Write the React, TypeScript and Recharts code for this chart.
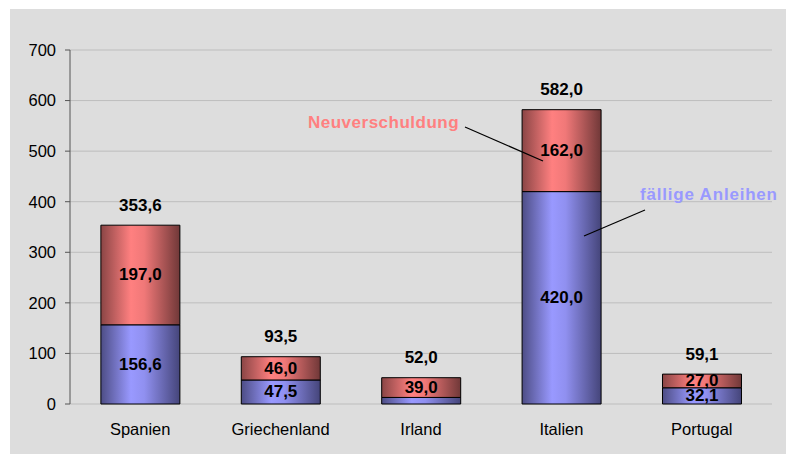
import { Bar, BarChart, CartesianGrid, LabelList, XAxis, YAxis } from 'recharts';

// Fälligkeiten und Neuverschuldung (Mrd. Euro)
const categories = ['Spanien', 'Griechenland', 'Irland', 'Italien', 'Portugal'];
const faelligeAnleihen = [156.6, 47.5, 13.0, 420.0, 32.1];
const neuverschuldung = [197.0, 46.0, 39.0, 162.0, 27.0];
const yTicks = [0, 100, 200, 300, 400, 500, 600, 700];
const boundaryTicks = [0, 1, 2, 3, 4, 5];

const FONT = '"Liberation Sans", Arial, sans-serif';
const BLUE = '#9999ff';
const RED = '#ff8080';

const fmt = (v: number) => v.toFixed(1).replace('.', ',');

const chartData = categories.map((name, i) => ({
  name,
  faellig: faelligeAnleihen[i],
  neu: neuverschuldung[i],
  total: faelligeAnleihen[i] + neuverschuldung[i],
}));

// value printed in the middle of a segment, skipped if the segment is too thin
const InnerLabel = (props: any) => {
  const { x, y, width, height, value } = props;
  if (Math.abs(height) < 10) return null;
  return (
    <text
      x={x + width / 2}
      y={y + height / 2}
      textAnchor="middle"
      dominantBaseline="central"
      fontFamily={FONT}
      fontSize={17}
      fontWeight="bold"
      fill="#000"
    >
      {fmt(Number(value))}
    </text>
  );
};

// total above the stack
const TotalLabel = (props: any) => {
  const { x, y, width, value } = props;
  return (
    <text
      x={x + width / 2}
      y={y - 20}
      textAnchor="middle"
      dominantBaseline="central"
      fontFamily={FONT}
      fontSize={17}
      fontWeight="bold"
      fill="#000"
    >
      {fmt(Number(value))}
    </text>
  );
};

export default function App() {
  return (
    <div style={{ position: 'absolute', left: 0, top: 0, width: 786, height: 454 }}>
      <div style={{ position: 'absolute', left: 10, top: 9, width: 776, height: 445, background: '#dddddd' }}>
        <BarChart
          width={776}
          height={445}
          data={chartData}
          margin={{ top: 41, right: 14, bottom: 20, left: 0 }}
          barCategoryGap="22%"
        >
          <defs>
            <linearGradient id="gradBlue" x1="0" y1="0" x2="1" y2="0">
              <stop offset="0%" stopColor="#4d4d85" />
              <stop offset="38%" stopColor={BLUE} />
              <stop offset="55%" stopColor="#9090f0" />
              <stop offset="100%" stopColor="#45457a" />
            </linearGradient>
            <linearGradient id="gradRed" x1="0" y1="0" x2="1" y2="0">
              <stop offset="0%" stopColor="#8a4545" />
              <stop offset="38%" stopColor={RED} />
              <stop offset="55%" stopColor="#f07878" />
              <stop offset="100%" stopColor="#703838" />
            </linearGradient>
          </defs>
          <CartesianGrid vertical={false} stroke="#bdbdbd" />
          <XAxis
            xAxisId="ticks"
            type="number"
            domain={[0, 5]}
            ticks={boundaryTicks}
            interval={0}
            tick={false}
            tickSize={6}
            height={0}
            axisLine={{ stroke: '#555' }}
            tickLine={{ stroke: '#555' }}
          />
          <XAxis
            xAxisId="cat"
            dataKey="name"
            height={30}
            axisLine={false}
            tickLine={false}
            tickSize={0}
            tickMargin={19}
            interval={0}
            tick={{ fill: '#000', fontSize: 16.5, fontFamily: FONT }}
          />
          <YAxis
            width={60}
            domain={[0, 700]}
            ticks={yTicks}
            interval={0}
            tickSize={5}
            tickMargin={9}
            axisLine={{ stroke: '#555' }}
            tickLine={{ stroke: '#555' }}
            tick={{ fill: '#000', fontSize: 16.5, fontFamily: FONT }}
          />
          <Bar
            xAxisId="cat"
            dataKey="faellig"
            stackId="a"
            fill="url(#gradBlue)"
            stroke="#000"
            strokeWidth={1}
            isAnimationActive={false}
          >
            <LabelList dataKey="faellig" content={InnerLabel} />
          </Bar>
          <Bar
            xAxisId="cat"
            dataKey="neu"
            stackId="a"
            fill="url(#gradRed)"
            stroke="#000"
            strokeWidth={1}
            isAnimationActive={false}
          >
            <LabelList dataKey="neu" content={InnerLabel} />
            <LabelList dataKey="total" content={TotalLabel} />
          </Bar>
        </BarChart>
      </div>
      {/* series callouts */}
      <svg
        width={786}
        height={454}
        style={{ position: 'absolute', left: 0, top: 0, pointerEvents: 'none' }}
      >
        <text x={308} y={128} fill={RED} fontFamily={FONT} fontSize={17} fontWeight="bold" letterSpacing={0.5}>
          Neuverschuldung
        </text>
        <line x1={465} y1={127} x2={543} y2={161} stroke="#000" strokeWidth={1.2} />
        <text x={640} y={200} fill={BLUE} fontFamily={FONT} fontSize={17} fontWeight="bold" letterSpacing={0.8}>
          fällige Anleihen
        </text>
        <line x1={645} y1={210} x2={584} y2={236} stroke="#000" strokeWidth={1.2} />
      </svg>
    </div>
  );
}
